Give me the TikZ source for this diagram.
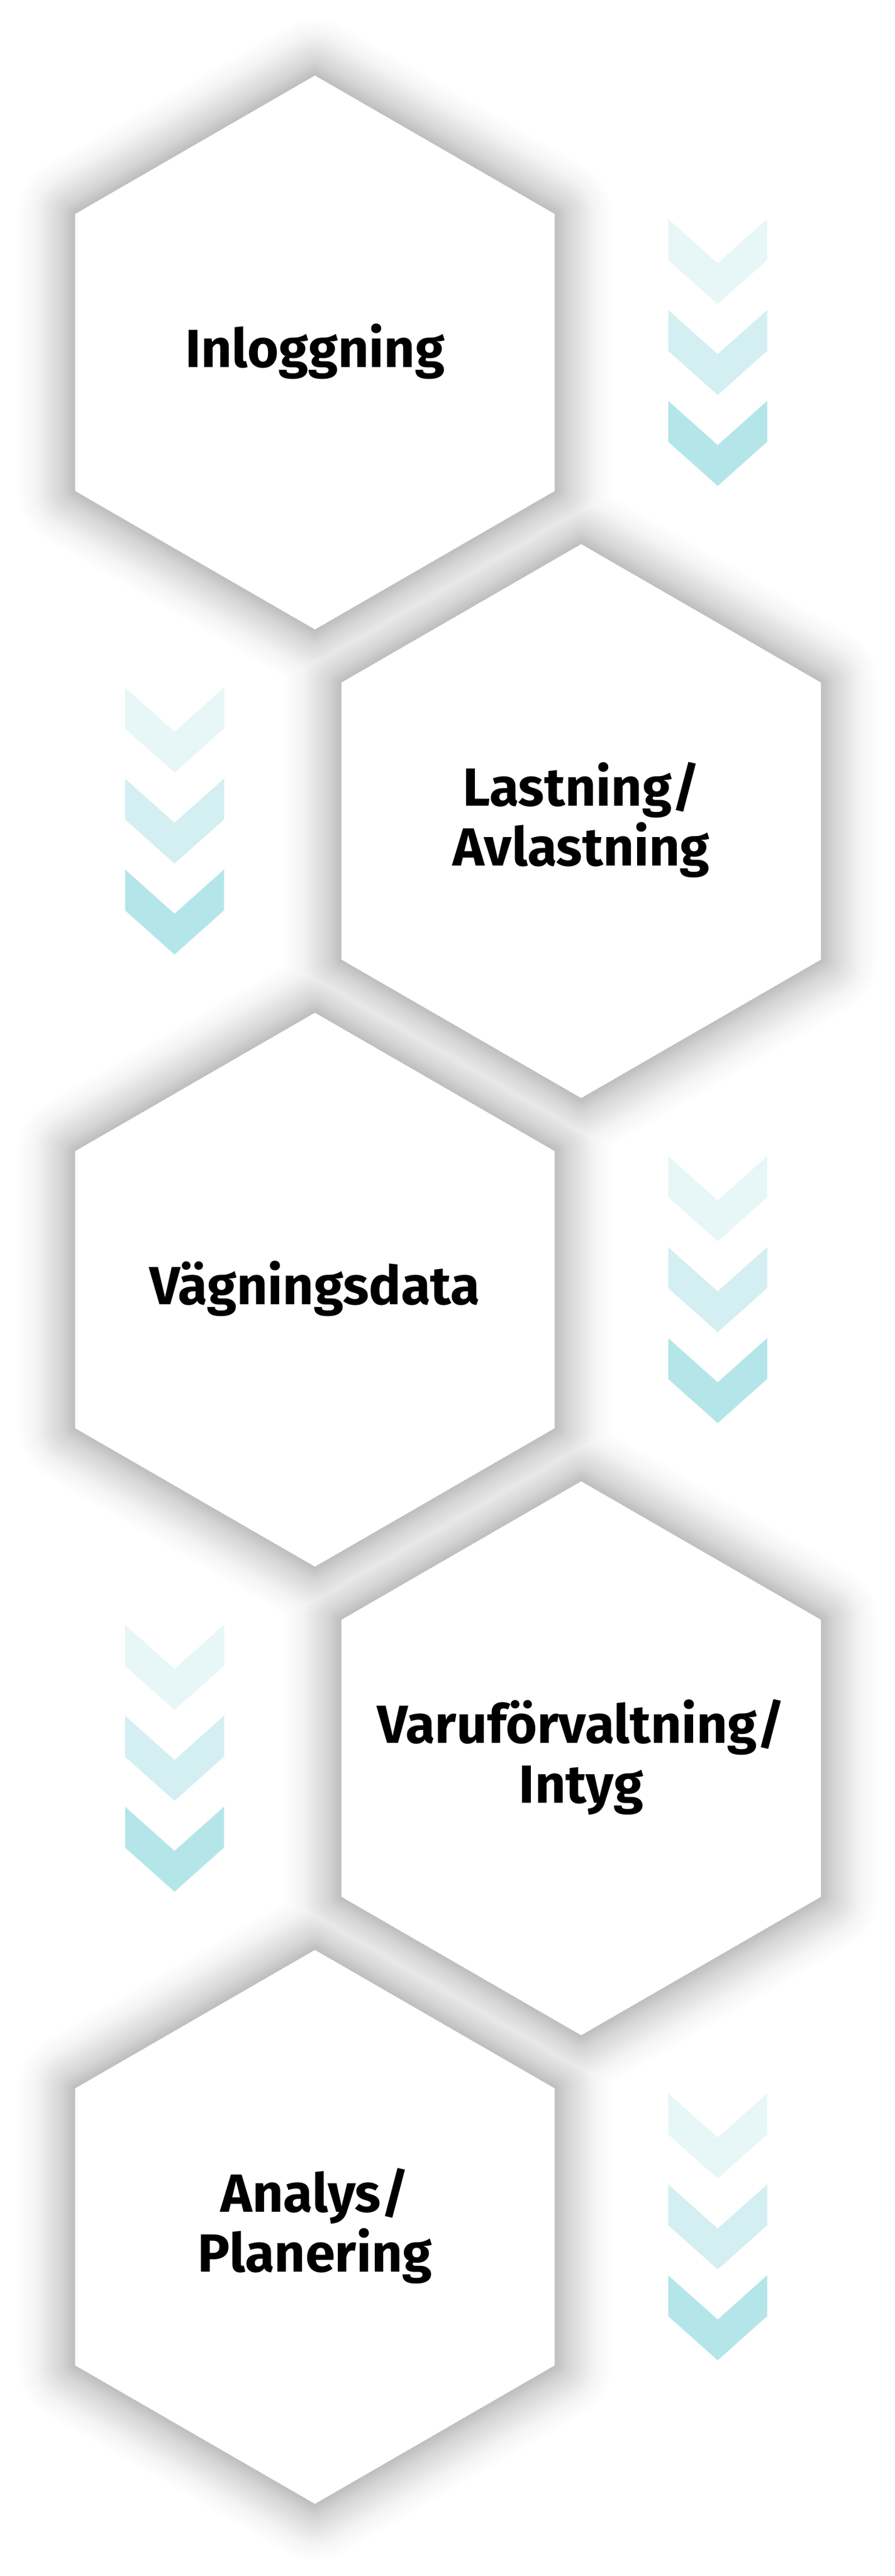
\documentclass[tikz,border=0pt]{standalone}
\usepackage{fontspec}
\setmainfont{Fira Sans}
\usepackage{tikz}
\usetikzlibrary{shapes.geometric}
\pgfdeclarelayer{background}
\pgfsetlayers{background,main}
\definecolor{arrowLight}{HTML}{E7F6F7}
\definecolor{arrowMid}{HTML}{D3EFF1}
\definecolor{arrowDark}{HTML}{B4E6E9}
\newcommand{\myChevron}[2]{%%
  %% One chevron, its top at height #1, filled with #2.
  \fill[#2] (-0.885,#1) -- ++(0.885,-0.79) -- ++(0.885,0.79)
    -- ++(0,-0.73) -- ++(-0.885,-0.79) -- ++(-0.885,0.79) -- cycle;
}
\newcommand{\myChevrons}[1]{%%
  %% Three chevrons below each other, from light to dark.
  \begin{scope}[shift={(#1)}]
    \myChevron{0}{arrowLight}
    \myChevron{-1.625}{arrowMid}
    \myChevron{-3.25}{arrowDark}
  \end{scope}
}
\newcommand{\myShadows}{%%
  %% A soft shadow: faint strokes of growing width round all hexagons,
  %% one path per width so that overlapping shadows do not add up.
  \foreach \k in {1,...,34}{%%
    \pgfmathsetmacro{\op}{0.0035+0.008*(1-\k/34)}
    \draw[shadowStyle,line width=\k*0.06cm,draw opacity=\op]
      \foreach \n in {login,loading,weighing,goods,analysis}
        {(\n.corner 1) -- (\n.corner 2) -- (\n.corner 3)
         -- (\n.corner 4) -- (\n.corner 5) -- (\n.corner 6) -- cycle};
  }
}

\begin{document}
\begin{tikzpicture}[%%
  hexStyle/.style={regular polygon,regular polygon sides=6,shape border rotate=30,
    minimum size=9.9cm,inner sep=-1.5cm,outer sep=0pt,fill=white,
    align=center,text depth=0.25cm,font=\bfseries\fontsize{27.3}{30.5}\selectfont},%%
  shadowStyle/.style={draw=black,line join=round}
]
%%
\useasboundingbox (0,0) rectangle (16,-46.04);
%%
\pgfmathsetmacro{\xleft}{5.63}
\pgfmathsetmacro{\xright}{10.39}
\pgfmathsetmacro{\dy}{8.375}
\pgfmathsetmacro{\ytop}{-6.30}
%% Centres of the hexagons.
\coordinate (p1) at (\xleft,\ytop);
\coordinate (p2) at (\xright,\ytop-\dy);
\coordinate (p3) at (\xleft,\ytop-2*\dy);
\coordinate (p4) at (\xright,\ytop-3*\dy);
\coordinate (p5) at (\xleft,\ytop-4*\dy);
%% Tops of the chevron columns.
\coordinate (c1) at (12.83,\ytop+2.385);
\coordinate (c2) at (3.12,\ytop-\dy+2.385);
\coordinate (c3) at (12.83,\ytop-2*\dy+2.385);
\coordinate (c4) at (3.12,\ytop-3*\dy+2.385);
\coordinate (c5) at (12.83,\ytop-4*\dy+2.385);
%%
%% The steps.
\node[hexStyle] (login) at (p1) {Inloggning};
\node[hexStyle] (loading) at (p2) {Lastning/\\Avlastning};
\node[hexStyle] (weighing) at (p3) {Vägningsdata};
\node[hexStyle] (goods) at (p4) {Varuförvaltning/\\Intyg};
\node[hexStyle] (analysis) at (p5) {Analys/\\Planering};
%%
%% White page and shadows behind all hexagons.
\begin{pgfonlayer}{background}
  \fill[white] (0,0) rectangle (16,-46.04);
  \myShadows
\end{pgfonlayer}
%%
%% Chevrons beside each step.
\foreach \c in {c1,c2,c3,c4,c5}
  {\myChevrons{\c}}
\end{tikzpicture}
\end{document}
